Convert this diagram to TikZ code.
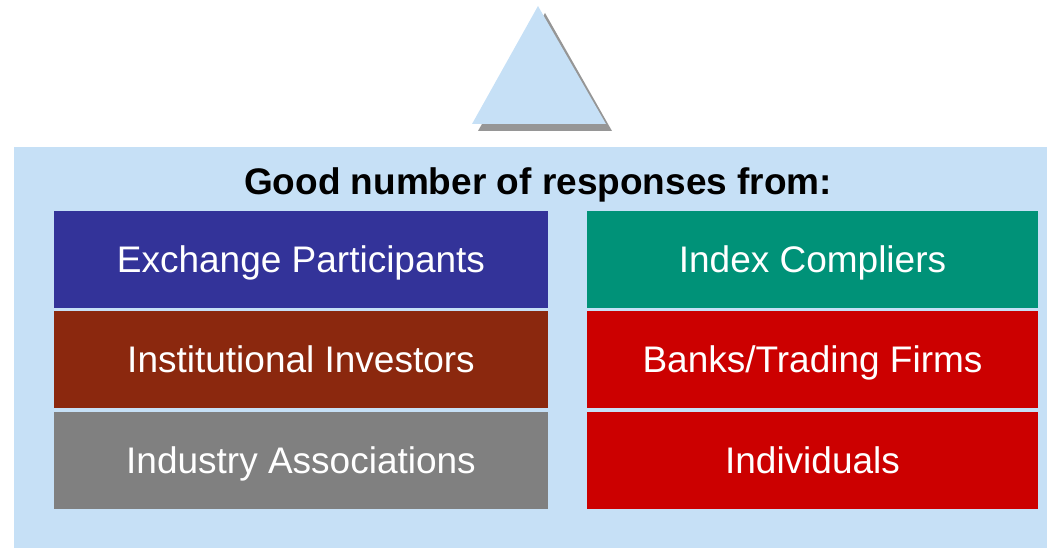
\documentclass[tikz,border=0pt]{standalone}
\usepackage{fontspec}
\setmainfont{Liberation Sans}
\definecolor{paleblue}{RGB}{198,224,246}
\definecolor{shadowgrey}{RGB}{150,150,150}
\definecolor{violet}{RGB}{51,51,153}
\definecolor{teal}{RGB}{0,146,120}
\definecolor{rust}{RGB}{139,40,14}
\definecolor{slate}{RGB}{128,128,128}
\definecolor{crimson}{RGB}{204,0,0}

\begin{document}
\begin{tikzpicture}[x=1pt,y=-1pt,
    label text/.style={inner sep=0pt, text height=30pt, text depth=4pt,
      font=\fontsize{37}{44}\selectfont},
    group/.style={label text, fill=#1, text=white, minimum height=97pt},
    leftbox/.style={group=#1, minimum width=494pt},
    rightbox/.style={group=#1, minimum width=451pt}]
      \useasboundingbox (0,0) rectangle (1047,548);
      \fill[paleblue] (14,147) rectangle (1047,548);
      % triangle with its shadow
      \fill[shadowgrey] (545,13) -- (478,131) -- (612,131) -- cycle;
      \fill[paleblue] (538,6) -- (472,124) -- (606,124) -- cycle;
      \node[label text, font=\bfseries\fontsize{37}{44}\selectfont] (title) at (538,182) {Good number of responses from:};
      \node[leftbox=violet] (exch) at (301,259.5) {Exchange Participants};
      \node[leftbox=rust] (inst) at (301,359.5) {Institutional Investors};
      \node[leftbox=slate] (indus) at (301,460.5) {Industry Associations};
      \node[rightbox=teal] (index) at (812.5,259.5) {Index Compliers};
      \node[rightbox=crimson] (banks) at (812.5,359.5) {Banks/Trading Firms};
      \node[rightbox=crimson] (indiv) at (812.5,460.5) {Individuals};
  \end{tikzpicture}
\end{document}
